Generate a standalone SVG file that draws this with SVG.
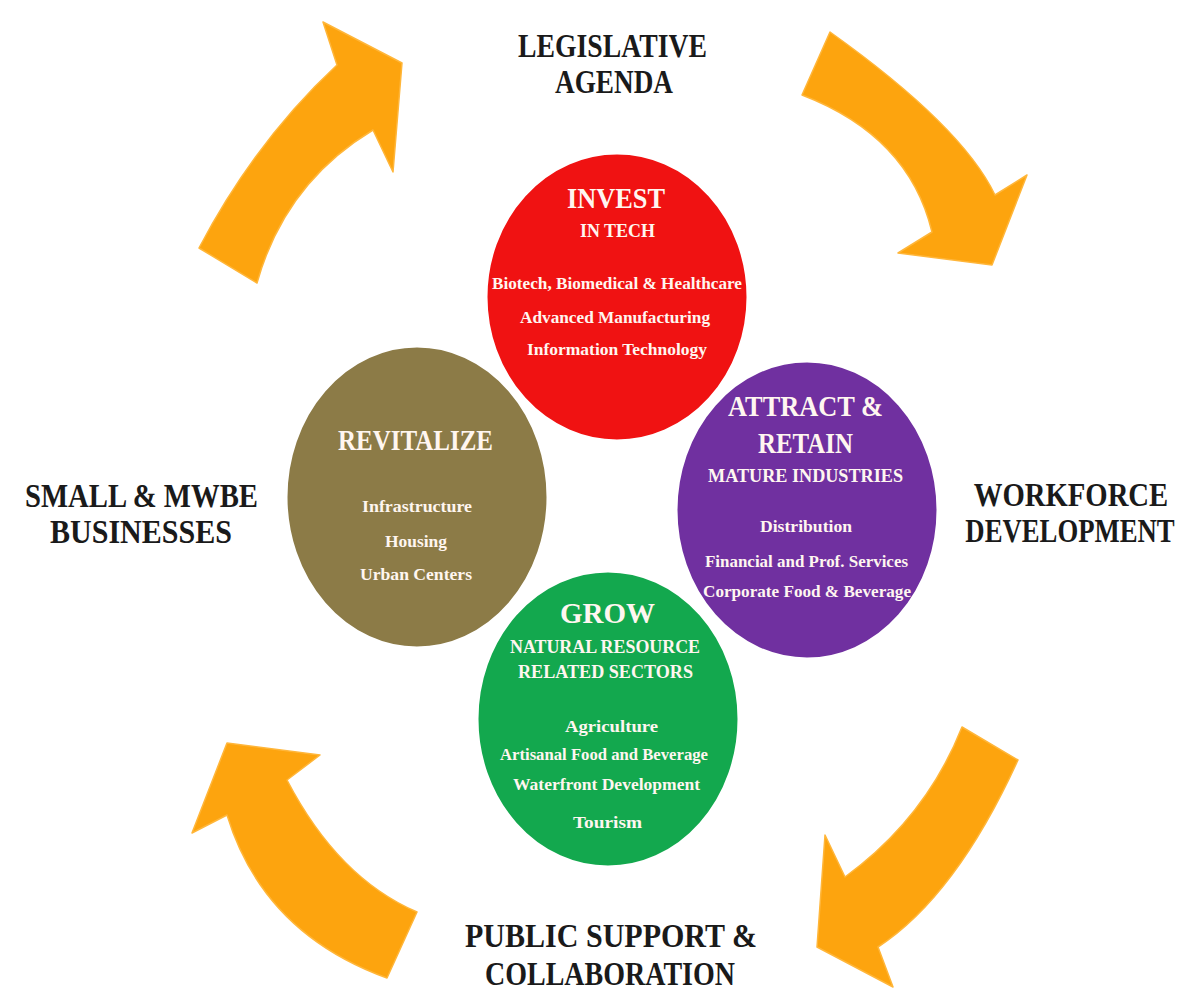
<svg xmlns="http://www.w3.org/2000/svg" width="1200" height="1008" viewBox="0 0 1200 1008">
<style>
.arrow{fill:#FDA40E;stroke:#FFB63A;stroke-width:1.5;stroke-linejoin:round}
.lbl{font-family:"Liberation Serif","Times New Roman",serif;font-weight:bold;font-size:33px;fill:#1a1a1a;text-anchor:middle}
.disc{stroke:#ffffff;stroke-width:3}
.h1{font-family:"Liberation Serif","Times New Roman",serif;font-weight:bold;font-size:30px;fill:#FFF6F0;text-anchor:middle}
.h2{font-family:"Liberation Serif","Times New Roman",serif;font-weight:bold;font-size:18px;fill:#FFF6F0;text-anchor:middle}
.it{font-family:"Liberation Serif","Times New Roman",serif;font-weight:bold;font-size:16px;fill:#FFF6F0;text-anchor:middle}
</style>
<rect width="1200" height="1008" fill="#ffffff"/>
<g id="connectors">
<path class="arrow" d="M199,248 Q256,140 337,65 L323,22 L402,63 L393,172 L373,130 Q285,183 257,283 Z"/>
<path class="arrow" d="M830,32 Q962,126 995,195 L1027,175 L992,265 L898,253 L932,232 Q909,136 802,95 Z"/>
<path class="arrow" d="M1018,760 Q956,896 878,947 L893,987 L817,947 L825,835 L845,877 Q926,818 962,727 Z"/>
<path class="arrow" d="M417,912 Q338,878 287,780 L320,755 L227,743 L192,833 L227,815 Q263,933 387,978 Z"/>
</g>
<g id="legislative">
<text class="lbl" x="612.5" y="57" textLength="189" lengthAdjust="spacingAndGlyphs">LEGISLATIVE</text>
<text class="lbl" x="614" y="93" textLength="118" lengthAdjust="spacingAndGlyphs">AGENDA</text>
</g>
<g id="small-business">
<text class="lbl" x="141.5" y="507" textLength="233" lengthAdjust="spacingAndGlyphs">SMALL &amp; MWBE</text>
<text class="lbl" x="141" y="543" textLength="182" lengthAdjust="spacingAndGlyphs">BUSINESSES</text>
</g>
<g id="workforce">
<text class="lbl" transform="translate(1071,506) scale(0.87,1)" x="0" y="0">WORKFORCE</text>
<text class="lbl" transform="translate(1070,542) scale(0.81,1)" x="0" y="0">DEVELOPMENT</text>
</g>
<g id="public-support">
<text class="lbl" x="611" y="947" textLength="292" lengthAdjust="spacingAndGlyphs">PUBLIC  SUPPORT &amp;</text>
<text class="lbl" x="610" y="985" textLength="250" lengthAdjust="spacingAndGlyphs">COLLABORATION</text>
</g>
<g id="revitalize">
<ellipse class="disc" cx="417" cy="497" rx="131" ry="151" fill="#8C7B47"/>
<text class="h1" x="415.5" y="450" textLength="155" lengthAdjust="spacingAndGlyphs">REVITALIZE</text>
<text class="it" x="417" y="512" textLength="110" lengthAdjust="spacingAndGlyphs">Infrastructure</text>
<text class="it" x="416" y="547" textLength="62" lengthAdjust="spacingAndGlyphs">Housing</text>
<text class="it" x="416" y="580" textLength="112" lengthAdjust="spacingAndGlyphs">Urban Centers</text>
</g>
<g id="grow">
<ellipse class="disc" cx="608" cy="719" rx="131" ry="148" fill="#13A84E"/>
<text class="h1" x="607.5" y="623" textLength="95" lengthAdjust="spacingAndGlyphs">GROW</text>
<text class="h2" x="605" y="653" textLength="190" lengthAdjust="spacingAndGlyphs">NATURAL RESOURCE</text>
<text class="h2" x="605.5" y="678" textLength="175" lengthAdjust="spacingAndGlyphs">RELATED SECTORS</text>
<text class="it" x="611.5" y="732" textLength="93" lengthAdjust="spacingAndGlyphs">Agriculture</text>
<text class="it" x="604" y="760" textLength="208" lengthAdjust="spacingAndGlyphs">Artisanal Food and Beverage</text>
<text class="it" x="606.5" y="790" textLength="187" lengthAdjust="spacingAndGlyphs">Waterfront Development</text>
<text class="it" x="607.5" y="828" textLength="69" lengthAdjust="spacingAndGlyphs">Tourism</text>
</g>
<g id="invest">
<ellipse class="disc" cx="617" cy="297" rx="131" ry="144" fill="#F01212"/>
<text class="h1" x="616" y="208" textLength="98" lengthAdjust="spacingAndGlyphs">INVEST</text>
<text class="h2" x="617.5" y="237" textLength="75" lengthAdjust="spacingAndGlyphs">IN TECH</text>
<text class="it" x="617" y="289" textLength="250" lengthAdjust="spacingAndGlyphs">Biotech, Biomedical &amp; Healthcare</text>
<text class="it" x="615" y="323" textLength="190" lengthAdjust="spacingAndGlyphs">Advanced Manufacturing</text>
<text class="it" x="617" y="355" textLength="180" lengthAdjust="spacingAndGlyphs">Information Technology</text>
</g>
<g id="attract">
<ellipse class="disc" cx="807" cy="510" rx="131" ry="149" fill="#7030A0"/>
<text class="h1" x="805.5" y="416" textLength="155" lengthAdjust="spacingAndGlyphs">ATTRACT &amp;</text>
<text class="h1" x="805.5" y="453" textLength="95" lengthAdjust="spacingAndGlyphs">RETAIN</text>
<text class="h2" x="805.5" y="482" textLength="195" lengthAdjust="spacingAndGlyphs">MATURE  INDUSTRIES</text>
<text class="it" x="806" y="532" textLength="92" lengthAdjust="spacingAndGlyphs">Distribution</text>
<text class="it" x="806.5" y="567" textLength="203" lengthAdjust="spacingAndGlyphs">Financial and Prof. Services</text>
<text class="it" x="807" y="597" textLength="208" lengthAdjust="spacingAndGlyphs">Corporate Food &amp; Beverage</text>
</g>
</svg>
